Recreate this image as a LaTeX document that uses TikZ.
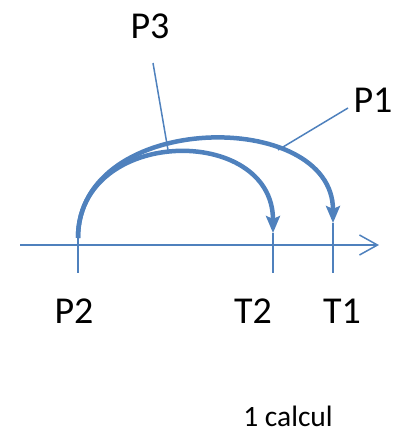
\documentclass[tikz,border=0pt]{standalone}
\usepackage{fontspec}
\setmainfont{Carlito}
\usetikzlibrary{arrows.meta}
\definecolor{ob}{HTML}{4F81BD}
\tikzset{
  lbl/.style={anchor=base,inner sep=0pt,font=\fontsize{38}{40}\selectfont},
  small/.style={anchor=base,inner sep=0pt,font=\fontsize{29.5}{32}\selectfont},
  axisline/.style={draw=ob,line width=1.5pt,-{Straight Barb[length=18pt,width=20pt,line width=1.5pt]}},
  tick/.style={draw=ob,line width=2pt},
  jump/.style={draw=ob,line width=4.5pt,-{Stealth[length=17pt,width=14pt,inset=3pt]}},
  leader/.style={draw=ob,line width=1.5pt}
}
\begin{document}
\begin{tikzpicture}[x=1pt,y=-1pt]
\useasboundingbox (0,0) rectangle (393,434);
% axis
\coordinate (a0) at (20,245);
\coordinate (a1) at (379,245);
\draw[axisline] (a0) -- (a1);
% points
\coordinate (p2top) at (78,238);
\coordinate (p2bot) at (78,273);
\coordinate (t2top) at (273,233);
\coordinate (t2bot) at (273,273);
\coordinate (t1top) at (333,223);
\coordinate (t1bot) at (333,273);
\draw[tick] (p2top) -- (p2bot);
\draw[tick] (t2top) -- (t2bot);
\draw[tick] (t1top) -- (t1bot);
% jumps
\draw[jump] (p2top) .. controls (78,110) and (333,108) .. (t1top);
\draw[jump] (p2top) .. controls (78,126) and (273,124) .. (t2top);
% labels
\node[lbl] (lp2) at (74,323) {P2};
\node[lbl] (lt2) at (253,323) {T2};
\node[lbl] (lt1) at (342,323) {T1};
\node[lbl] (lp3) at (150,38) {P3};
\node[lbl] (lp1) at (373,112) {P1};
\node[small] (calc) at (288,426) {1 calcul};
% leaders
\coordinate (l3a) at (153,63);
\coordinate (l3b) at (168,150);
\coordinate (l1a) at (348,108);
\coordinate (l1b) at (278,150);
\draw[leader] (l3a) -- (l3b);
\draw[leader] (l1a) -- (l1b);
\end{tikzpicture}
\end{document}
